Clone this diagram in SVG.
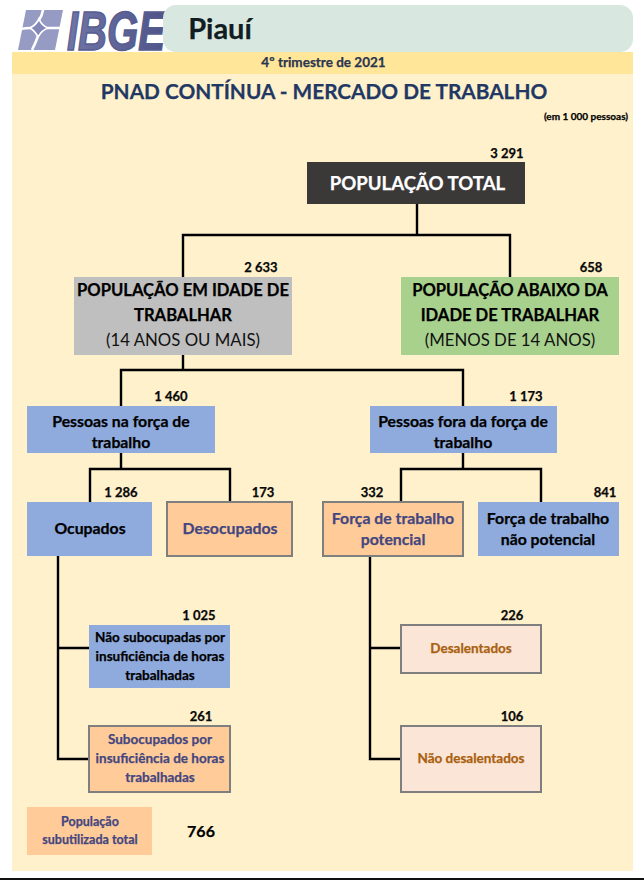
<svg xmlns="http://www.w3.org/2000/svg" width="644" height="880" viewBox="0 0 644 880">
<style>
text{font-family:Lato,"Liberation Sans",sans-serif;font-weight:700;text-anchor:middle;fill:#000;stroke:#000;stroke-width:.25}
.n{font-size:13px;fill:#0a0a0a}
.big{font-size:16.600px}
.mid{font-size:15.800px}
.pur{fill:#44467f;stroke:#44467f}
.brn{fill:#a9600f;stroke:#a9600f;font-size:13.500px}
.reg{font-weight:400;font-size:16.800px;fill:#111;stroke:none}
.sm{font-size:13.500px}
.line{fill:none;stroke:#000;stroke-width:2.400}
.box{stroke:#7f7f7f;stroke-width:2}
</style>
<defs><linearGradient id="lg" x1="0" x2="1" y1="0" y2="0"><stop offset="0" stop-color="#6f75a6"/><stop offset="1" stop-color="#4e5488"/></linearGradient></defs>
<rect width="644" height="880" fill="#fff"/>
<rect x="12" y="74" width="621" height="797" fill="#fff1cc"/>
<rect x="12" y="52" width="621" height="22" fill="#ffe699"/>
<rect x="0" y="878" width="644" height="2" fill="#111"/>
<g id="logo">
<path d="M26 10 H63 L55 50 H18Z" fill="#969bc3"/>
<path d="M43 10 Q42 16 39 20 M20 29 Q26 28 31 28 M60 28 Q53 28 47 28 M32 50 Q36 42 38 36" fill="none" stroke="#fff" stroke-width="2.600"/>
<path d="M39 19 Q42 26 48 28 Q42 30 38 37 Q35 31 30 28 Q36 25 39 19Z" fill="#8288b8" stroke="#fff" stroke-width="1.800"/>
<text transform="translate(116 50) scale(.73 1)" style="font-family:'Liberation Sans',sans-serif;font-size:55px;font-weight:700;font-style:italic;fill:url(#lg);stroke:#565c90;stroke-width:1.500">IBGE</text>
</g>
<g id="titulo">
<rect x="163" y="5" width="470" height="47" rx="13" fill="#d8e8e0"/>
<text x="220" y="39" style="font-size:29px;fill:#111d22;stroke:#111d22">Piauí</text>
<text x="323.500" y="67" style="font-size:13.500px;fill:#2b3550;stroke:#2b3550">4º trimestre de 2021</text>
<text x="324" y="99" style="font-size:20.800px;fill:#1f3864;stroke:#1f3864">PNAD CONTÍNUA - MERCADO DE TRABALHO</text>
<text x="586" y="120" style="font-size:10px">(em 1 000 pessoas)</text>
</g>
<g id="conectores" class="line">
<path d="M417 204 V235 M183 277 V235 H510 V277"/>
<path d="M183 355 V370 M121 406 V370 H463 V406"/>
<path d="M121 453 V469 M90 502 V469 H230 V502"/>
<path d="M463 453 V469 M401 502 V469 H541 V502"/>
<path d="M58 556 V759 H89 M58 648 H89"/>
<path d="M370 556 V759 H401 M370 648 H401"/>
</g>
<g id="populacao-total">
<rect x="307" y="162" width="218" height="42" fill="#3b3838"/>
<text x="417.500" y="190" style="font-size:18.600px;fill:#fff;stroke:#fff">POPULAÇÃO TOTAL</text>
<text class="n" x="507" y="158">3 291</text>
</g>
<g id="idade-trabalhar">
<rect x="74" y="277" width="218" height="78" fill="#bfbfbf"/>
<text class="big" x="183" y="296">POPULAÇÃO EM IDADE DE</text>
<text class="big" x="183" y="321">TRABALHAR</text>
<text class="reg" x="183" y="346">(14 ANOS OU MAIS)</text>
<text class="n" x="261" y="272">2 633</text>
</g>
<g id="abaixo-idade">
<rect x="401" y="277" width="218" height="78" fill="#a9d18e"/>
<text class="big" x="510" y="296">POPULAÇÃO ABAIXO DA</text>
<text class="big" x="510" y="321">IDADE DE TRABALHAR</text>
<text class="reg" x="510" y="346">(MENOS DE 14 ANOS)</text>
<text class="n" x="591" y="272">658</text>
</g>
<g id="forca">
<rect x="27" y="406" width="188" height="47" fill="#8faadc"/>
<text class="mid" x="121" y="427">Pessoas na força de</text>
<text class="mid" x="121" y="448">trabalho</text>
<text class="n" x="171" y="401">1 460</text>
</g>
<g id="fora-forca">
<rect x="370" y="406" width="187" height="47" fill="#8faadc"/>
<text class="mid" x="463" y="427">Pessoas fora da força de</text>
<text class="mid" x="463" y="448">trabalho</text>
<text class="n" x="526" y="401">1 173</text>
</g>
<g id="ocupados">
<rect x="27" y="502" width="125" height="54" fill="#8faadc"/>
<text class="mid" x="90" y="534">Ocupados</text>
<text class="n" x="121" y="497">1 286</text>
</g>
<g id="desocupados">
<rect class="box" x="167" y="502" width="125" height="54" fill="#ffcc99"/>
<text class="mid pur" x="230" y="534">Desocupados</text>
<text class="n" x="263" y="497">173</text>
</g>
<g id="potencial">
<rect class="box" x="323" y="502" width="140" height="54" fill="#ffcc99"/>
<text class="mid pur" x="393" y="524">Força de trabalho</text>
<text class="mid pur" x="393" y="545">potencial</text>
<text class="n" x="372" y="497">332</text>
</g>
<g id="nao-potencial">
<rect x="478" y="502" width="141" height="54" fill="#8faadc"/>
<text class="mid" x="548" y="524">Força de trabalho</text>
<text class="mid" x="548" y="545">não potencial</text>
<text class="n" x="605" y="497">841</text>
</g>
<g id="nao-subocupadas">
<rect x="89" y="625" width="141" height="63" fill="#8faadc"/>
<text class="sm" x="160" y="642">Não subocupadas por</text>
<text class="sm" x="160" y="661">insuficiência de horas</text>
<text class="sm" x="160" y="680">trabalhadas</text>
<text class="n" x="199" y="620">1 025</text>
</g>
<g id="subocupados">
<rect class="box" x="89" y="726" width="141" height="66" fill="#ffcc99"/>
<text class="pur sm" x="160" y="744">Subocupados por</text>
<text class="pur sm" x="160" y="763">insuficiência de horas</text>
<text class="pur sm" x="160" y="782">trabalhadas</text>
<text class="n" x="201" y="721">261</text>
</g>
<g id="desalentados">
<rect class="box" x="401" y="625" width="140" height="48" fill="#fbe5d6"/>
<text class="brn" x="471" y="653">Desalentados</text>
<text class="n" x="512" y="620">226</text>
</g>
<g id="nao-desalentados">
<rect class="box" x="401" y="726" width="140" height="66" fill="#fbe5d6"/>
<text class="brn" x="471" y="763">Não desalentados</text>
<text class="n" x="512" y="721">106</text>
</g>
<g id="subutilizada">
<rect x="27" y="807" width="125" height="48" fill="#ffcc99"/>
<text class="pur" x="90" y="826" style="font-size:12.500px">População</text>
<text class="pur" x="90" y="844" style="font-size:12.500px">subutilizada total</text>
<text x="201" y="837" style="font-size:16px">766</text>
</g>
</svg>
